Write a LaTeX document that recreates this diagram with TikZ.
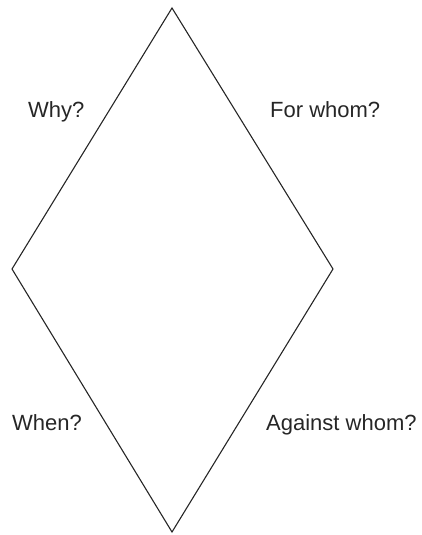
\documentclass[tikz,border=0pt]{standalone}
\usepackage{fontspec}
\setmainfont{Liberation Sans}
\begin{document}
\begin{tikzpicture}[x=1pt,y=-1pt,
  lbl/.style={anchor=base west,inner sep=0pt,font=\fontsize{22}{26}\selectfont,text=black!85},
  edge/.style={draw=black!85,line width=1.1pt,line join=miter}]
\useasboundingbox (0,0) rectangle (422,535);
\coordinate (t) at (172,8);
\coordinate (l) at (12,269);
\coordinate (b) at (172,532);
\coordinate (r) at (333,269);
\draw[edge] (t) -- (l) -- (b) -- (r) -- cycle;
\node[lbl] (why) at (28,117.5) {Why?};
\node[lbl] (forwhom) at (270,117) {For whom?};
\node[lbl] (when) at (12,430) {When?};
\node[lbl] (against) at (266,430) {Against whom?};
\end{tikzpicture}
\end{document}
